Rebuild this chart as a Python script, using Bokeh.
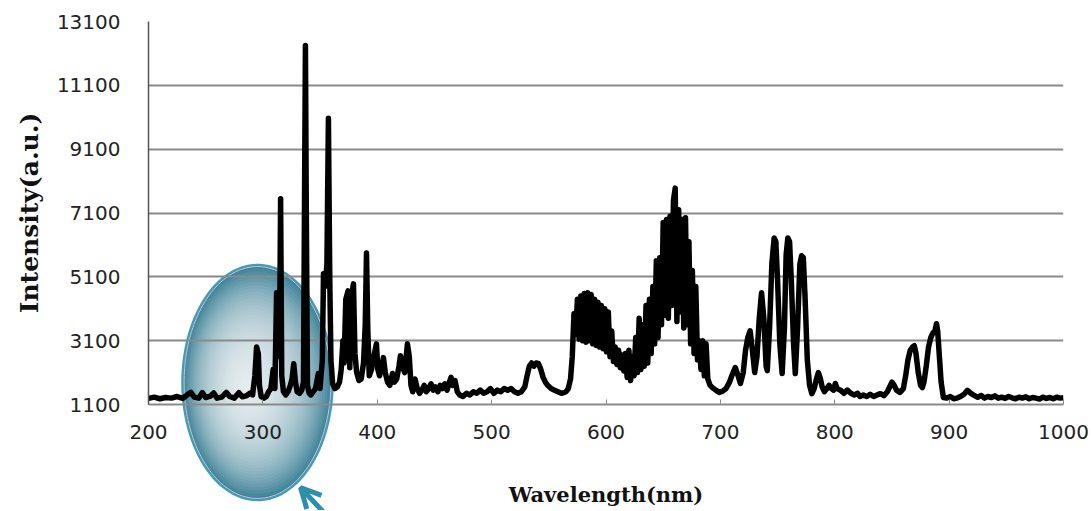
import numpy as np
from bokeh.plotting import figure
from bokeh.layouts import column
from bokeh.models import FixedTicker, Range1d, Arrow, OpenHead, ColumnDataSource
from bokeh.embed import file_html
from bokeh.resources import INLINE

# ---------------- data ----------------
uv_nm = [200, 205, 210, 215, 220, 225, 230, 233, 237, 240, 244, 247, 250, 254, 257, 260,
         264, 268, 271, 275, 279, 282, 286, 289]
uv_int = [1290, 1330, 1280, 1320, 1300, 1350, 1290, 1380, 1480, 1330, 1300, 1470, 1320, 1360,
          1460, 1300, 1330, 1480, 1350, 1300, 1470, 1340, 1380, 1460]

n2_nm = [291, 293, 294.5, 296, 297, 298.5, 301, 303, 305, 307, 309, 310.5, 312, 313.5, 314.5,
         315.5, 316.5, 318, 320, 322, 324, 325.5, 327, 328.5, 330, 332, 334, 335.5, 336.5,
         337.2, 338, 339, 340.5, 342, 344, 346, 348.5, 350, 352, 353, 354.5, 356, 357.3,
         358.5, 359.5, 361, 363, 365, 367, 368.5, 370, 371, 372.5, 374.5, 376, 377.5, 379.2,
         380.5, 382, 384, 386, 388, 389.5, 390.6, 391.7, 393, 395, 397, 399.3, 400.5, 402,
         404, 405.4, 407, 409, 411, 413.3, 415, 417, 419, 420.3, 422, 424, 426.4, 428, 429.5,
         431]
n2_int = [1400, 2000, 2900, 2700, 1700, 1350, 1300, 1350, 1500, 1600, 2200, 1600, 4600, 4400,
          2600, 7550, 2000, 1500, 1400, 1500, 1700, 1900, 2380, 1800, 1500, 1450, 1550, 1800,
          8000, 12350, 7000, 1700, 1450, 1400, 1500, 1600, 2070, 1600, 2500, 5200, 4800, 5500,
          10070, 5000, 2500, 1750, 1600, 1650, 1800, 2200, 3100, 2400, 4400, 4660, 2250, 4500,
          4880, 2700, 2100, 1850, 1900, 2400, 3600, 5850, 3500, 2000, 2200, 2600, 3000, 2200,
          2000, 2300, 2570, 2100, 1800, 1700, 2070, 1800, 1900, 2300, 2630, 2300, 2100, 3000,
          2600, 1700, 1500]

vis_nm = [433, 435, 437, 439, 441, 443, 445, 447, 449, 451, 453, 455, 457, 459, 461, 463,
          464.5, 466, 468, 470, 472, 475, 478, 481, 484, 487, 490, 493, 496, 499, 502, 505,
          508, 511, 514, 517, 520, 523, 526, 529, 531, 533, 535, 537, 539, 541, 543, 545, 547,
          549, 552, 555, 558, 561, 563, 565, 567, 569, 570.5]
vis_int = [1900, 1600, 1450, 1550, 1700, 1500, 1600, 1750, 1550, 1650, 1500, 1700, 1600, 1750,
           1550, 1800, 1950, 1700, 1850, 1500, 1400, 1350, 1450, 1400, 1500, 1450, 1550, 1450,
           1500, 1600, 1450, 1550, 1500, 1600, 1550, 1600, 1500, 1450, 1500, 1650, 2000, 2300,
           2400, 2300, 2400, 2380, 2200, 1950, 1800, 1700, 1600, 1550, 1500, 1450, 1470, 1500,
           1600, 1900, 2600]

band_nm = [572, 573.5, 575, 576.5, 578, 579.5, 581, 582.5, 584, 585.5, 587, 588.5, 590, 591.5,
           593, 594.5, 596, 597.5, 599, 600.5, 602, 603.5, 605, 606.5, 608, 609.5, 611, 612.5,
           614, 615.5, 617, 618.5, 620, 621.5, 623, 624.5, 626, 627.5, 629, 630.5, 632, 633.5,
           635, 636.5, 638, 639.5, 641, 642.5, 644, 645.5, 647, 648.5, 650, 651.5, 653, 654.5,
           656, 657.5, 659, 660.5, 662, 663.5, 665, 666.5, 668, 669.5, 671, 672.5, 674, 675.5,
           677, 678.5, 680, 681.5, 683, 684.5, 686, 687.5, 689, 691, 693, 696, 699]
band_int = [3940, 3300, 4400, 3150, 4500, 3100, 4580, 3050, 4600, 3100, 4550, 3000, 4400, 2950,
            4300, 2900, 4200, 2850, 4100, 2750, 4000, 2600, 3400, 2450, 2900, 2350, 2800, 2250,
            2650, 2150, 2700, 1950, 2800, 1850, 2600, 2000, 3200, 2100, 3800, 2200, 3600, 2300,
            4200, 2400, 4400, 2700, 4800, 3000, 5600, 3200, 5700, 3600, 6800, 3900, 6900, 3800,
            7000, 4200, 7500, 7880, 3700, 7200, 4000, 6900, 3500, 6950, 3600, 6200, 3000, 5300,
            2700, 4800, 2500, 3100, 2200, 3100, 2000, 3000, 1900, 1700, 1630, 1550, 1480]

nir_nm = [702, 705, 708, 710, 713, 715.5, 717.5, 720, 722, 724, 726, 728, 730, 732, 734, 736,
          738, 740, 741, 743, 745, 747, 748.5, 750, 752, 754, 756, 757.5, 759, 760.5, 762, 764,
          765.5, 767.5, 769.5, 771, 772.5, 774, 776, 778, 780, 782, 784, 785.7, 787.5, 789,
          791, 793, 795, 797, 799, 800.5, 802, 805, 808, 811, 814, 817, 820, 822, 825, 828,
          831, 834, 837, 840, 843, 846, 848, 850, 852, 854, 857, 860, 862, 864, 866, 868,
          869.6, 871, 873, 875, 876.6, 878, 880, 882, 884, 886, 887.5, 889, 890, 891.5, 893,
          895, 898, 901, 904, 907, 910, 913, 916, 919, 922, 925, 928, 931, 934, 937, 940, 943,
          946, 949, 952, 955, 958, 961, 964, 967, 970, 973, 976, 979, 982, 985, 988, 991, 994,
          997, 1000]
nir_int = [1520, 1600, 1800, 2000, 2260, 2000, 1760, 2100, 2800, 3200, 3410, 2800, 2100, 2600,
           3800, 4600, 3800, 2300, 2160, 3500, 5500, 6320, 6200, 5000, 3000, 2070, 3500, 5800,
           6320, 6200, 5000, 3000, 2070, 3500, 5500, 5760, 5700, 4500, 2500, 1700, 1440, 1600,
           1900, 2100, 1900, 1650, 1500, 1600, 1700, 1600, 1550, 1760, 1600, 1550, 1450, 1550,
           1450, 1400, 1450, 1350, 1400, 1350, 1420, 1350, 1400, 1440, 1380, 1500, 1650, 1800,
           1700, 1550, 1480, 1600, 2000, 2500, 2800, 2900, 2940, 2700, 2100, 1700, 1630, 1800,
           2300, 2900, 3200, 3350, 3400, 3630, 3400, 2600, 1800, 1320, 1300, 1350, 1280, 1300,
           1350, 1420, 1540, 1450, 1380, 1330, 1380, 1300, 1350, 1320, 1370, 1300, 1330, 1290,
           1350, 1310, 1280, 1330, 1300, 1340, 1280, 1320, 1300, 1270, 1330, 1290, 1320, 1280,
           1330, 1300, 1310]

wavelength = uv_nm + n2_nm + vis_nm + band_nm + nir_nm
intensity = uv_int + n2_int + vis_int + band_int + nir_int

x_ticks = [200, 300, 400, 500, 600, 700, 800, 900, 1000]
y_ticks = [1100, 3100, 5100, 7100, 9100, 11100, 13100]
X0, X1 = 200, 1000
Y0, Y1 = 1100, 13100

# ---------------- layout constants (pixels) ----------------
W, H = 1090, 510
L, T = 148, 21
FW, FH = 915, 383
R, B = W - L - FW, H - T - FH
sx = (X1 - X0) / FW   # nm per px
sy = (Y1 - Y0) / FH   # intensity per px

xr = Range1d(X0, X1)

# ---------------- background figure: highlight ellipse + arrow ----------------
bg = figure(width=W, height=H, output_backend="svg", toolbar_location=None,
            x_range=xr, y_range=Range1d(Y0 - B * sy, Y1 + T * sy),
            min_border_left=L, min_border_right=R, min_border_top=0, min_border_bottom=0,
            x_axis_type=None, y_axis_type=None)
bg.grid.visible = False
bg.outline_line_color = None
bg.background_fill_color = "white"
bg.border_fill_color = "white"

cx, cy = X0 + 109 * sx, Y0 + 22 * sy        # ellipse centre
rx, ry = 75 * sx, 117.5 * sy                # semi axes
hx, hy = X0 + 97 * sx, Y0 + 19 * sy         # highlight centre
th = np.linspace(0, 2 * np.pi, 160)

def ell(cxx, cyy, rxx, ryy):
    return list(cxx + rxx * np.cos(th)), list(cyy + ryy * np.sin(th))

N = 34
lx, ly, lc, la = [], [], [], []
ex, ey = ell(cx, cy, rx, ry)
lx.append(ex); ly.append(ey); lc.append("#3a8197"); la.append(1.0)
for k in range(1, N + 1):
    t = k / (N + 2)
    ex, ey = ell(cx + (hx - cx) * t, cy + (hy - cy) * t, rx * (1 - t), ry * (1 - t))
    lx.append(ex); ly.append(ey); lc.append("white"); la.append(0.065)
bg.patches("xs", "ys", source=ColumnDataSource(dict(xs=lx, ys=ly, c=lc, a=la)),
           fill_color="c", fill_alpha="a", line_color=None)
ex, ey = ell(cx, cy, rx, ry)
bg.line(ex, ey, line_color="#3f9fb2", line_width=2.5)
ex, ey = ell(cx, cy, rx - 1.6 * sx, ry - 1.6 * sy)
bg.line(ex, ey, line_color="#d9bcd9", line_width=1)

bg.add_layout(Arrow(x_start=X0 + 179 * sx, y_start=Y0 - 112 * sy,
                    x_end=X0 + 152 * sx, y_end=Y0 - 83 * sy,
                    line_color="#2f8eaa", line_width=5,
                    end=OpenHead(size=20, line_color="#2f8eaa", line_width=5)))

# ---------------- main chart (transparent, on top) ----------------
p = figure(width=W, height=H, output_backend="svg", toolbar_location=None,
           x_range=xr, y_range=Range1d(Y0, Y1),
           min_border_left=L, min_border_right=R, min_border_top=T, min_border_bottom=B,
           styles={"margin-top": f"-{H}px"})
p.outline_line_color = None
p.background_fill_color = None
p.border_fill_color = None

p.xaxis.ticker = FixedTicker(ticks=x_ticks)
p.yaxis.ticker = FixedTicker(ticks=y_ticks)
p.xgrid.grid_line_color = None
p.ygrid.grid_line_color = "#8a8a8a"
p.ygrid.grid_line_width = 2

for ax in (p.xaxis[0], p.yaxis[0]):
    ax.major_label_text_font = "DejaVu Sans"
    ax.major_label_text_font_size = "20px"
    ax.major_label_text_color = "#222222"
    ax.axis_label_text_font = "DejaVu Serif"
    ax.axis_label_text_font_style = "bold"
    ax.axis_label_text_color = "#111111"
    ax.minor_tick_line_color = None
    ax.major_tick_out = 0

p.xaxis.axis_label = "Wavelength(nm)"
p.yaxis.axis_label = "Intensity(a.u.)"
p.xaxis.axis_label_text_font_size = "21px"
p.yaxis.axis_label_text_font_size = "25px"
p.xaxis.axis_line_color = "#8a8a8a"
p.xaxis.axis_line_width = 2
p.xaxis.major_tick_in = 5
p.xaxis.major_tick_line_color = "#8a8a8a"
p.xaxis.major_label_standoff = 20
p.xaxis.axis_label_standoff = 40
p.yaxis.axis_line_color = "#555555"
p.yaxis.axis_line_width = 1.5
p.yaxis.major_tick_in = 0
p.yaxis.major_tick_line_color = None
p.yaxis.major_label_standoff = 28
p.yaxis.axis_label_standoff = 10

src = ColumnDataSource(dict(x=wavelength, y=intensity))
p.line("x", "y", source=src, line_color="black", line_width=5.5, line_join="round")

layout = column(bg, p, spacing=0)
open("out.html", "w").write(file_html(layout, INLINE))
